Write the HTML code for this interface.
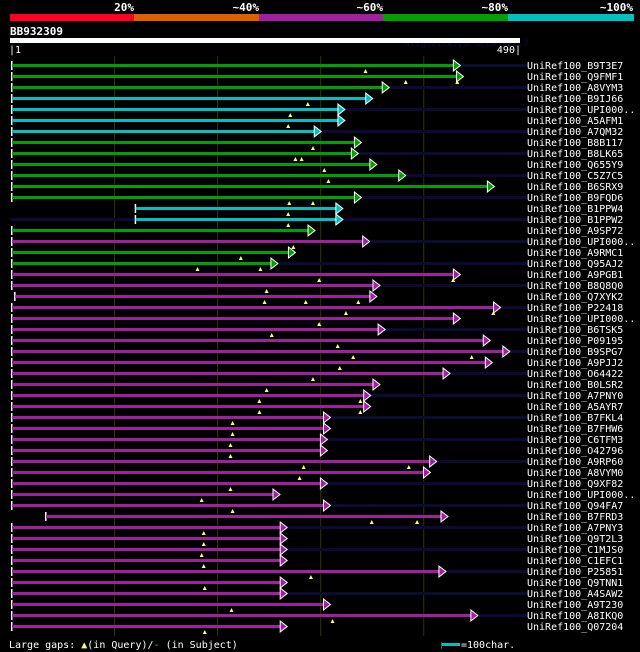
<!DOCTYPE html>
<html><head><meta charset="utf-8"><style>
body{margin:0;background:#000;width:640px;height:652px;overflow:hidden}
svg{display:block}
text{font-family:"DejaVu Sans Mono","Liberation Mono",monospace}
</style></head><body>
<svg id="c" width="640" height="652">
<g>
<rect x="10" y="14" width="124" height="7" fill="#ff0022"/>
<rect x="134" y="14" width="125" height="7" fill="#e06000"/>
<rect x="259" y="14" width="124" height="7" fill="#a020a0"/>
<rect x="383" y="14" width="125" height="7" fill="#00a000"/>
<rect x="508" y="14" width="126" height="7" fill="#00c0c0"/>
<g fill="#fff" font-size="11" font-weight="bold" text-anchor="end">
<text x="134" y="11">20%</text>
<text x="259" y="11">~40%</text>
<text x="383" y="11">~60%</text>
<text x="508" y="11">~80%</text>
<text x="633" y="11">~100%</text>
</g></g>
<text x="10" y="35" fill="#fff" font-size="11" font-weight="bold">BB932309</text>
<text x="404" y="46" fill="#0a0a50" font-size="9">AlignView.pm Beta rel.7</text>
<rect x="10" y="38" width="510" height="5" fill="#fff"/>
<text x="9" y="53" fill="#fff" font-size="10">|1</text>
<text x="521" y="53" fill="#fff" font-size="10" text-anchor="end">490|</text>
<g id="grid"></g>
<g id="rows"></g>
<g font-size="10" fill="#fff">
<text x="9" y="648">Large gaps: <tspan fill="#ffff66">▲</tspan>(in Query)/<tspan fill="#00c0c0">-</tspan> (in Subject)</text>
<rect x="441" y="642" width="1" height="7" fill="#666600"/>
<rect x="442" y="643" width="18" height="3" fill="#00c0c0"/>
<text x="461" y="648">=100char.</text>
</g>
</svg>
<script>
const names=["B9T3E7","Q9FMF1","A8VYM3","B9IJ66","UPI000..","A5AFM1","A7QM32","B8B117","B8LK65","Q655Y9","C5Z7C5","B6SRX9","B9FQD6","B1PPW4","B1PPW2","A9SP72","UPI000..","A9RMC1","Q95AJ2","A9PGB1","B8Q8Q0","Q7XYK2","P22418","UPI000..","B6TSK5","P09195","B9SPG7","A9PJJ2","O64422","B0LSR2","A7PNY0","A5AYR7","B7FKL4","B7FHW6","C6TFM3","O42796","A9RP60","A8VYM0","Q9XF82","UPI000..","Q94FA7","B7FRD3","A7PNY3","Q9T2L3","C1MJS0","C1EFC1","P25851","Q9TNN1","A4SAW2","A9T230","A8IKQ0","Q07204"];
const colorClass=["g","g","g","c","c","c","c","g","g","g","g","g","g","c","c","g","m","g","g","m","m","m","m","m","m","m","m","m","m","m","m","m","m","m","m","m","m","m","m","m","m","m","m","m","m","m","m","m","m","m","m","m"];
const starts=[1,1,1,1,1,1,1,1,1,1,1,1,1,121,121,1,1,1,1,1,1,4,1,1,1,1,1,1,1,1,1,1,1,1,1,1,1,1,1,1,1,34,1,1,1,1,1,1,1,1,1,1];
const ends=[436,439,367,351,324,324,301,340,337,355,383,469,340,322,322,295,348,276,259,436,358,355,475,436,363,465,484,467,426,358,349,349,310,310,307,307,413,407,307,261,310,424,268,268,268,268,422,268,268,310,453,268];
const gaps=[[344],[383,433],[],[288],[271],[269],[],[293],[276,282],[304],[308],[],[270,293],[269],[269],[],[274],[223],[181,242],[299,429],[248],[246,286,337],[325,468],[299],[253],[317],[332,447],[319],[293],[248],[241,339],[241,339],[215],[215],[213],[213],[284,386],[280],[213],[185],[215],[350,394],[187],[187],[185],[187],[291],[188],[],[214],[312],[188]];
const gridTicks=[100,200,300,400];
const COL={g:"#00a000",c:"#00c0c0",m:"#a020a0"};
const NS="http://www.w3.org/2000/svg";
function xs(p){return 12+(p-1)*1.0307;}
function ys(i){return 65+i*11;}
function mk(t,a,parent){const e=document.createElementNS(NS,t);for(const k in a)e.setAttribute(k,a[k]);parent.appendChild(e);return e;}
const grid=document.getElementById('grid'),rows=document.getElementById('rows');
gridTicks.forEach(t=>{
  const l=mk('line',{x1:xs(t)+0.5,x2:xs(t)+0.5,y1:56,y2:636,stroke:'#333300','stroke-width':1},grid);
  
  
});
names.forEach((n,i)=>{
  const y=ys(i);
  const g=mk('g',{},rows);
  
  
  if(i%2===0){const bg=mk('rect',{x:10,y:y-1,width:519,height:3,fill:'#0a0a32'},g);
    
    }
  const c=COL[colorClass[i]];
  const x0=xs(starts[i]),x1=xs(ends[i]);
  const tick=mk('rect',{x:x0-1,y:y-4,width:1.5,height:9,fill:'#fff'},g);
  
  
  const bar=mk('rect',{x:x0,y:y-1,width:Math.max(0,x1-6-x0),height:3,fill:c},g);
  
  
  const ar=mk('polygon',{points:`${x1-7},${y-5} ${x1},${y+0.5} ${x1-7},${y+6}`,fill:c,stroke:'#fff','stroke-width':1},g);
  
  
  gaps[i].forEach(p=>{
    const m=mk('polygon',{points:`${xs(p)-2},${y+8} ${xs(p)},${y+4} ${xs(p)+2},${y+8}`,fill:'#ffff66'},g);
    
    
  });
  const t=mk('text',{x:527,y:y+4,fill:'#fff','font-size':10},g);
  t.textContent='UniRef100_'+n;
  
  
});
</script>
</body></html>
